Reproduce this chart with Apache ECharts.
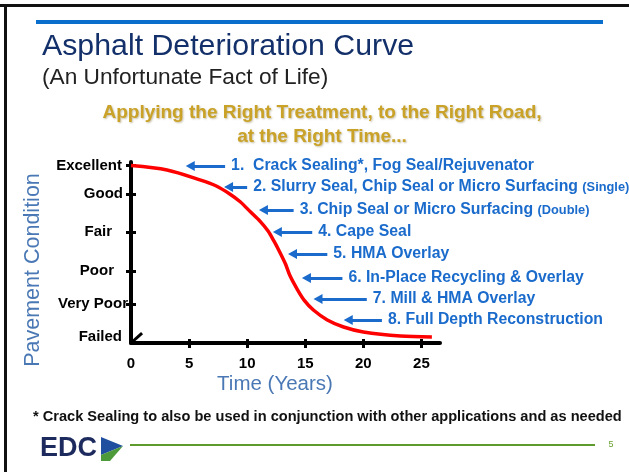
<!DOCTYPE html>
<html><head><meta charset="utf-8">
<script src="https://cdn.jsdelivr.net/npm/echarts@6/dist/echarts.min.js"></script>
<style>html,body{margin:0;padding:0;background:#fff}#c{width:629px;height:472px}</style>
</head><body><div id="c"></div>
<script>
// ---- data ----
const years     = [0, 3.1, 6, 7.3, 8.5, 9.4, 10.3, 11.1, 11.8, 12.3, 12.8, 13.3, 13.7, 14.3, 14.9, 15.7, 16.9, 18.3, 20.0, 23.2, 25.9];
const condition = [100, 97.5, 91.8, 88.6, 84.0, 79.6, 73.8, 68.7, 63.1, 57.5, 51.3, 44.5, 37.7, 30.4, 24.2, 18.6, 13.0, 9.0, 6.2, 3.9, 3.4];
const xTickLabels = [0, 5, 10, 15, 20, 25];
const xTickMarks = [5, 10, 15, 20, 25];
const yTickValues = [0, 22, 40.6, 62.5, 84, 100];
const yTickLabels = ['Failed', 'Very Poor', 'Poor', 'Fair', 'Good', 'Excellent'];
const treatmentLabels = [
  '1.  Crack Sealing*, Fog Seal/Rejuvenator',
  '2. Slurry Seal, Chip Seal or Micro Surfacing',
  '3. Chip Seal or Micro Surfacing',
  '4. Cape Seal',
  '5. HMA Overlay',
  '6. In-Place Recycling & Overlay',
  '7. Mill & HMA Overlay',
  '8. Full Depth Reconstruction'
];
const treatmentNotes = ['', '(Single)', '(Double)', '', '', '', '', ''];
const arrowTipYears  = [5.1, 8.4, 11.4, 12.6, 13.9, 15.1, 16.1, 18.7];
const arrowTailYears = [8.1, 10.0, 14.0, 15.6, 16.9, 18.2, 20.3, 21.6];
const arrowCondition = [99.7, 87.9, 74.9, 62.5, 50.1, 36.6, 24.8, 13.0];
const breakYears = [0, 0.95];
const breakCondition = [0, 5.6];

// ---- chart ----
const BLUE = '#1a6bcc';
const labelPad = [6, 0, 14, 16, 5, 6];
const rich = {};
yTickLabels.forEach((t, i) => {
  rich['s' + i] = {
    fontFamily: 'Liberation Sans', fontWeight: 'bold', fontSize: 15, color: '#000',
    padding: i === 0 ? [0, labelPad[i], 12, 0] : [0, labelPad[i], 0, 0]
  };
});

const chart = echarts.init(document.getElementById('c'), null, {renderer: 'canvas'});
const markData = treatmentLabels.map((t, i) => [
  {coord: [arrowTipYears[i], arrowCondition[i]], name: t + (treatmentNotes[i] ? ' {n|' + treatmentNotes[i] + '}' : '')},
  {coord: [arrowTailYears[i], arrowCondition[i]]}
]);

const axisFontLabel = {fontFamily: 'Liberation Sans', fontWeight: 'bold', fontSize: 15, color: '#000'};

chart.setOption({
  animation: false,
  backgroundColor: '#fff',
  grid: {left: 131, right: 189, top: 162, bottom: 129, containLabel: false},
  xAxis: [
    {type: 'value', min: 0, max: 26.6, position: 'bottom',
     axisLine: {show: true, onZero: false, lineStyle: {color: '#000', width: 4}},
     axisTick: {show: true, inside: false, length: 5, lineStyle: {color: '#000', width: 3}, customValues: xTickMarks},
     axisLabel: Object.assign({margin: 13, customValues: xTickLabels}, axisFontLabel),
     splitLine: {show: false}},
    {type: 'value', min: 0, max: 26.6, position: 'bottom',
     axisLine: {show: false},
     axisTick: {show: true, inside: true, length: 4, lineStyle: {color: '#000', width: 3}, customValues: xTickMarks},
     axisLabel: {show: false},
     splitLine: {show: false}}
  ],
  yAxis: [
    {type: 'value', min: 0, max: 102, position: 'left',
     axisLine: {show: true, onZero: false, lineStyle: {color: '#000', width: 4}},
     axisTick: {show: true, inside: false, length: 5, lineStyle: {color: '#000', width: 3}, customValues: yTickValues.slice(1)},
     axisLabel: {margin: 3, customValues: yTickValues,
       formatter: v => { const i = yTickValues.indexOf(v); return i < 0 ? '' : '{s' + i + '|' + yTickLabels[i] + '}'; },
       rich: rich},
     splitLine: {show: false}},
    {type: 'value', min: 0, max: 102, position: 'left',
     axisLine: {show: false},
     axisTick: {show: true, inside: true, length: 5, lineStyle: {color: '#000', width: 3}, customValues: yTickValues.slice(1)},
     axisLabel: {show: false},
     splitLine: {show: false}}
  ],
  series: [
    {type: 'line', data: years.map((x, i) => [x, condition[i]]), smooth: 0.3,
     showSymbol: false, symbol: 'none', lineStyle: {color: '#ff0000', width: 3.5}, silent: true, z: 3,
     markLine: {
       silent: true, symbol: ['triangle', 'none'], symbolSize: [10, 9],
       lineStyle: {color: BLUE, width: 3, type: 'solid'},
       label: {show: true, position: 'end', distance: 6, formatter: p => p.name,
         fontFamily: 'Liberation Sans', fontWeight: 'bold', fontSize: 15.8, color: BLUE,
         rich: {n: {fontFamily: 'Liberation Sans', fontWeight: 'bold', fontSize: 12.8, color: BLUE}}},
       emphasis: {disabled: true},
       data: markData
     }},
    {type: 'line', data: breakYears.map((x, i) => [x, breakCondition[i]]), showSymbol: false, symbol: 'none',
     lineStyle: {color: '#000', width: 3}, silent: true, z: 4}
  ],
  graphic: [
    {type: 'rect', shape: {x: 0, y: 4, width: 629, height: 3}, style: {fill: '#111'}},
    {type: 'rect', shape: {x: 4, y: 4, width: 3, height: 468}, style: {fill: '#111'}},
    {type: 'rect', shape: {x: 36, y: 20, width: 567, height: 4}, style: {fill: '#0a6fcc'}},
    {type: 'text', x: 42, y: 47, style: {text: 'Asphalt Deterioration Curve', font: '30.3px "Liberation Sans"', fill: '#13306a', textVerticalAlign: 'middle'}},
    {type: 'text', x: 42, y: 78, style: {text: '(An Unfortunate Fact of Life)', font: '22.7px "Liberation Sans"', fill: '#222', textVerticalAlign: 'middle'}},
    {type: 'text', x: 322, y: 113, style: {text: 'Applying the Right Treatment, to the Right Road,', font: 'bold 19px "Liberation Sans"', fill: '#c9a227', textAlign: 'center', textVerticalAlign: 'middle', textShadowColor: 'rgba(90,70,0,0.35)', textShadowBlur: 2, textShadowOffsetX: 1, textShadowOffsetY: 1}},
    {type: 'text', x: 322, y: 137, style: {text: 'at the Right Time...', font: 'bold 19px "Liberation Sans"', fill: '#c9a227', textAlign: 'center', textVerticalAlign: 'middle', textShadowColor: 'rgba(90,70,0,0.35)', textShadowBlur: 2, textShadowOffsetX: 1, textShadowOffsetY: 1}},
    {type: 'text', x: 33, y: 270, rotation: Math.PI / 2, style: {text: 'Pavement Condition', font: '21.5px "Liberation Sans"', fill: '#4a78b5', textAlign: 'center', textVerticalAlign: 'middle'}},
    {type: 'text', x: 275, y: 384, style: {text: 'Time (Years)', font: '20.5px "Liberation Sans"', fill: '#4a78b5', textAlign: 'center', textVerticalAlign: 'middle'}},
    {type: 'text', x: 33, y: 417, style: {text: '* Crack Sealing to also be used in conjunction with other applications and as needed', font: 'bold 14.6px "Liberation Sans"', fill: '#111', textVerticalAlign: 'middle'}},
    {type: 'text', x: 40, y: 449, style: {text: 'EDC', font: 'bold 27px "Liberation Sans"', fill: '#1c2a5e', textVerticalAlign: 'middle'}},
    {type: 'polygon', shape: {points: [[101, 437], [101, 455], [123, 446]]}, style: {fill: '#1f4f9e'}},
    {type: 'polygon', shape: {points: [[101, 455], [123, 446], [110, 461], [101, 461]]}, style: {fill: '#4c9a3a'}},
    {type: 'rect', shape: {x: 130, y: 444, width: 465, height: 2}, style: {fill: '#5f9a2c'}},
    {type: 'text', x: 611, y: 445, style: {text: '5', font: '9px "Liberation Sans"', fill: '#6aa02e', textAlign: 'center', textVerticalAlign: 'middle'}}
  ]
});
</script></body></html>
